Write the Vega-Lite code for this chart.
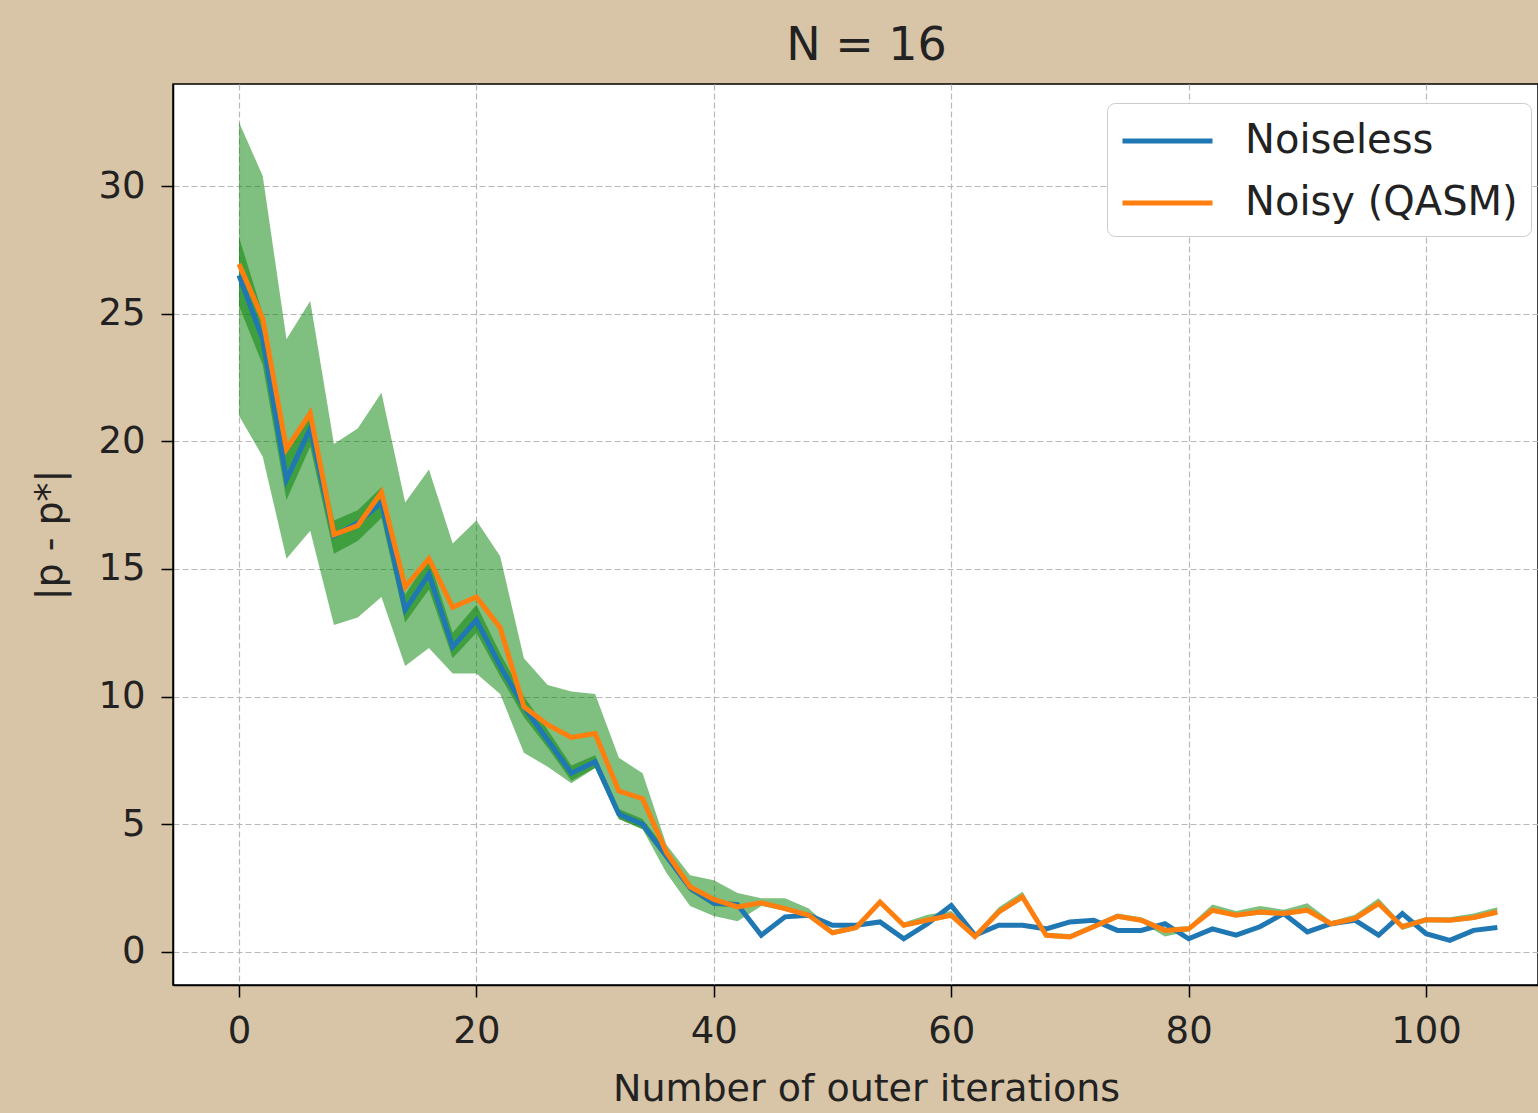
{
  "$schema": "https://vega.github.io/schema/vega-lite/v6.json",
  "autosize": "none",
  "padding": {"left": 173, "top": 84, "right": 0, "bottom": 128},
  "width": 1365,
  "height": 901,
  "background": "#d8c4a6",
  "title": {"text": "N = 16", "fontSize": 46, "font": "DejaVu Sans", "fontWeight": "normal", "color": "#222222", "offset": 14, "dx": 11},
  "config": {
    "view": {"fill": "white", "stroke": "black", "strokeWidth": 1.5},
    "font": "DejaVu Sans",
    "axis": {
      "labelFont": "DejaVu Sans", "labelFontSize": 37, "labelColor": "#222222",
      "titleFont": "DejaVu Sans", "titleFontSize": 38, "titleFontWeight": "normal", "titleColor": "#222222",
      "tickColor": "black", "tickSize": 12, "tickWidth": 1.5,
      "domainColor": "black", "domainWidth": 1.5,
      "gridColor": "#b8b8b8", "gridDash": [6, 3], "gridWidth": 1.2
    },
    "legend": {
      "orient": "none", "legendX": 934, "legendY": 19,
      "fillColor": "white", "strokeColor": "#cccccc", "cornerRadius": 8, "padding": 13,
      "labelFont": "DejaVu Sans", "labelFontSize": 40, "labelColor": "#222222", "labelLimit": 500,
      "symbolType": "M-1,0H3", "symbolSize": 2025, "symbolStrokeWidth": 5, "symbolFillColor": "transparent", "labelOffset": 75,
      "rowPadding": 17, "title": null
    }
  },
  "data": {"values": [
    {"it": 0, "Noiseless": 26.5, "Noisy (QASM)": 26.95, "lo": 21.0, "hi": 32.5, "lo2": 25.3, "hi2": 28.0},
    {"it": 2, "Noiseless": 24.0, "Noisy (QASM)": 24.8, "lo": 19.4, "hi": 30.4, "lo2": 23.0, "hi2": 25.0},
    {"it": 4, "Noiseless": 18.5, "Noisy (QASM)": 19.7, "lo": 15.4, "hi": 24.0, "lo2": 17.7, "hi2": 19.6},
    {"it": 6, "Noiseless": 20.5, "Noisy (QASM)": 21.1, "lo": 16.5, "hi": 25.5, "lo2": 19.8, "hi2": 21.3},
    {"it": 8, "Noiseless": 16.3, "Noisy (QASM)": 16.35, "lo": 12.8, "hi": 19.9, "lo2": 15.6, "hi2": 16.9},
    {"it": 10, "Noiseless": 16.8, "Noisy (QASM)": 16.7, "lo": 13.1, "hi": 20.5, "lo2": 16.1, "hi2": 17.3},
    {"it": 12, "Noiseless": 17.6, "Noisy (QASM)": 18.0, "lo": 13.9, "hi": 21.9, "lo2": 17.0, "hi2": 18.2},
    {"it": 14, "Noiseless": 13.4, "Noisy (QASM)": 14.3, "lo": 11.2, "hi": 17.6, "lo2": 12.9, "hi2": 14.0},
    {"it": 16, "Noiseless": 14.8, "Noisy (QASM)": 15.4, "lo": 11.9, "hi": 18.9, "lo2": 14.2, "hi2": 15.4},
    {"it": 18, "Noiseless": 11.95, "Noisy (QASM)": 13.5, "lo": 10.9, "hi": 16.0, "lo2": 11.5, "hi2": 12.5},
    {"it": 20, "Noiseless": 13.0, "Noisy (QASM)": 13.9, "lo": 10.9, "hi": 16.9, "lo2": 12.5, "hi2": 13.6},
    {"it": 22, "Noiseless": 11.2, "Noisy (QASM)": 12.7, "lo": 10.1, "hi": 15.5, "lo2": 10.8, "hi2": 11.7},
    {"it": 24, "Noiseless": 9.6, "Noisy (QASM)": 9.6, "lo": 7.8, "hi": 11.5, "lo2": 9.2, "hi2": 10.0},
    {"it": 26, "Noiseless": 8.3, "Noisy (QASM)": 8.9, "lo": 7.25, "hi": 10.45, "lo2": 8.0, "hi2": 8.7},
    {"it": 28, "Noiseless": 7.0, "Noisy (QASM)": 8.4, "lo": 6.6, "hi": 10.2, "lo2": 6.7, "hi2": 7.3},
    {"it": 30, "Noiseless": 7.45, "Noisy (QASM)": 8.55, "lo": 7.2, "hi": 10.1, "lo2": 7.2, "hi2": 7.7},
    {"it": 32, "Noiseless": 5.4, "Noisy (QASM)": 6.3, "lo": 5.2, "hi": 7.6, "lo2": 5.2, "hi2": 5.6},
    {"it": 34, "Noiseless": 5.0, "Noisy (QASM)": 6.0, "lo": 4.8, "hi": 7.0, "lo2": 4.8, "hi2": 5.2},
    {"it": 36, "Noiseless": 3.75, "Noisy (QASM)": 3.9, "lo": 3.1, "hi": 4.2, "lo2": 3.6, "hi2": 4.0},
    {"it": 38, "Noiseless": 2.5, "Noisy (QASM)": 2.55, "lo": 1.8, "hi": 3.0, "lo2": 2.35, "hi2": 2.65},
    {"it": 40, "Noiseless": 1.9, "Noisy (QASM)": 2.05, "lo": 1.4, "hi": 2.8, "lo2": 1.8, "hi2": 2.0},
    {"it": 42, "Noiseless": 1.85, "Noisy (QASM)": 1.76, "lo": 1.2, "hi": 2.3, "lo2": 1.75, "hi2": 1.95},
    {"it": 44, "Noiseless": 0.65, "Noisy (QASM)": 1.92, "lo": 1.8, "hi": 2.1, "lo2": 0.6, "hi2": 0.7},
    {"it": 46, "Noiseless": 1.37, "Noisy (QASM)": 1.69, "lo": 1.6, "hi": 2.1, "lo2": 1.32, "hi2": 1.42},
    {"it": 48, "Noiseless": 1.43, "Noisy (QASM)": 1.43, "lo": 1.35, "hi": 1.7, "lo2": 1.38, "hi2": 1.48},
    {"it": 50, "Noiseless": 1.04, "Noisy (QASM)": 0.74, "lo": 0.65, "hi": 0.85, "lo2": 0.99, "hi2": 1.09},
    {"it": 52, "Noiseless": 1.04, "Noisy (QASM)": 0.95, "lo": 0.85, "hi": 1.05, "lo2": 0.99, "hi2": 1.09},
    {"it": 54, "Noiseless": 1.17, "Noisy (QASM)": 1.95, "lo": 1.85, "hi": 2.05, "lo2": 1.12, "hi2": 1.22},
    {"it": 56, "Noiseless": 0.51, "Noisy (QASM)": 1.04, "lo": 0.95, "hi": 1.15, "lo2": 0.46, "hi2": 0.56},
    {"it": 58, "Noiseless": 1.1, "Noisy (QASM)": 1.24, "lo": 1.15, "hi": 1.45, "lo2": 1.05, "hi2": 1.15},
    {"it": 60, "Noiseless": 1.82, "Noisy (QASM)": 1.43, "lo": 1.35, "hi": 1.6, "lo2": 1.77, "hi2": 1.87},
    {"it": 62, "Noiseless": 0.65, "Noisy (QASM)": 0.6, "lo": 0.5, "hi": 0.7, "lo2": 0.6, "hi2": 0.7},
    {"it": 64, "Noiseless": 1.04, "Noisy (QASM)": 1.56, "lo": 1.45, "hi": 1.75, "lo2": 0.99, "hi2": 1.09},
    {"it": 66, "Noiseless": 1.04, "Noisy (QASM)": 2.15, "lo": 2.05, "hi": 2.35, "lo2": 0.99, "hi2": 1.09},
    {"it": 68, "Noiseless": 0.9, "Noisy (QASM)": 0.65, "lo": 0.55, "hi": 0.75, "lo2": 0.85, "hi2": 0.95},
    {"it": 70, "Noiseless": 1.17, "Noisy (QASM)": 0.58, "lo": 0.5, "hi": 0.7, "lo2": 1.12, "hi2": 1.22},
    {"it": 72, "Noiseless": 1.24, "Noisy (QASM)": 0.98, "lo": 0.9, "hi": 1.1, "lo2": 1.19, "hi2": 1.29},
    {"it": 74, "Noiseless": 0.84, "Noisy (QASM)": 1.39, "lo": 1.3, "hi": 1.5, "lo2": 0.79, "hi2": 0.89},
    {"it": 76, "Noiseless": 0.84, "Noisy (QASM)": 1.24, "lo": 1.15, "hi": 1.35, "lo2": 0.79, "hi2": 0.89},
    {"it": 78, "Noiseless": 1.1, "Noisy (QASM)": 0.84, "lo": 0.6, "hi": 0.95, "lo2": 1.05, "hi2": 1.15},
    {"it": 80, "Noiseless": 0.51, "Noisy (QASM)": 0.9, "lo": 0.8, "hi": 1.0, "lo2": 0.46, "hi2": 0.56},
    {"it": 82, "Noiseless": 0.9, "Noisy (QASM)": 1.63, "lo": 1.55, "hi": 1.85, "lo2": 0.85, "hi2": 0.95},
    {"it": 84, "Noiseless": 0.65, "Noisy (QASM)": 1.43, "lo": 1.35, "hi": 1.6, "lo2": 0.6, "hi2": 0.7},
    {"it": 86, "Noiseless": 0.98, "Noisy (QASM)": 1.56, "lo": 1.45, "hi": 1.8, "lo2": 0.93, "hi2": 1.03},
    {"it": 88, "Noiseless": 1.5, "Noisy (QASM)": 1.5, "lo": 1.4, "hi": 1.65, "lo2": 1.45, "hi2": 1.55},
    {"it": 90, "Noiseless": 0.78, "Noisy (QASM)": 1.63, "lo": 1.55, "hi": 1.9, "lo2": 0.73, "hi2": 0.83},
    {"it": 92, "Noiseless": 1.1, "Noisy (QASM)": 1.1, "lo": 1.0, "hi": 1.2, "lo2": 1.05, "hi2": 1.15},
    {"it": 94, "Noiseless": 1.24, "Noisy (QASM)": 1.3, "lo": 1.2, "hi": 1.45, "lo2": 1.19, "hi2": 1.29},
    {"it": 96, "Noiseless": 0.65, "Noisy (QASM)": 1.89, "lo": 1.8, "hi": 2.1, "lo2": 0.6, "hi2": 0.7},
    {"it": 98, "Noiseless": 1.5, "Noisy (QASM)": 0.98, "lo": 0.85, "hi": 1.1, "lo2": 1.45, "hi2": 1.55},
    {"it": 100, "Noiseless": 0.71, "Noisy (QASM)": 1.26, "lo": 1.15, "hi": 1.35, "lo2": 0.66, "hi2": 0.76},
    {"it": 102, "Noiseless": 0.45, "Noisy (QASM)": 1.24, "lo": 1.15, "hi": 1.35, "lo2": 0.4, "hi2": 0.5},
    {"it": 104, "Noiseless": 0.84, "Noisy (QASM)": 1.34, "lo": 1.25, "hi": 1.5, "lo2": 0.79, "hi2": 0.89},
    {"it": 106, "Noiseless": 0.95, "Noisy (QASM)": 1.56, "lo": 1.45, "hi": 1.75, "lo2": 0.9, "hi2": 1.0}
  ]},
  "encoding": {
    "x": {
      "field": "it", "type": "quantitative",
      "scale": {"domain": [-5.56, 109.43], "nice": false, "zero": false},
      "axis": {"values": [0, 20, 40, 60, 80, 100], "title": "Number of outer iterations", "labelPadding": 16, "titlePadding": 21, "titleX": 693}
    }
  },
  "layer": [
    {
      "mark": {"type": "area", "color": "#008000", "opacity": 0.5},
      "encoding": {
        "y": {"field": "lo", "type": "quantitative",
          "scale": {"domain": [-1.3, 34.0], "nice": false, "zero": false},
          "axis": {"values": [0, 5, 10, 15, 20, 25, 30], "title": "|p - p*|", "labelPadding": 16, "titlePadding": 28}},
        "y2": {"field": "hi"}
      }
    },
    {
      "mark": {"type": "area", "color": "#008000", "opacity": 0.5},
      "encoding": {
        "y": {"field": "lo2", "type": "quantitative"},
        "y2": {"field": "hi2"}
      }
    },
    {
      "transform": [{"fold": ["Noiseless", "Noisy (QASM)"], "as": ["series", "value"]}],
      "mark": {"type": "line", "strokeWidth": 5},
      "encoding": {
        "y": {"field": "value", "type": "quantitative"},
        "color": {"field": "series", "type": "nominal",
          "scale": {"domain": ["Noiseless", "Noisy (QASM)"], "range": ["#1f77b4", "#ff7f0e"]},
          "legend": {"title": null}}
      }
    }
  ]
}
